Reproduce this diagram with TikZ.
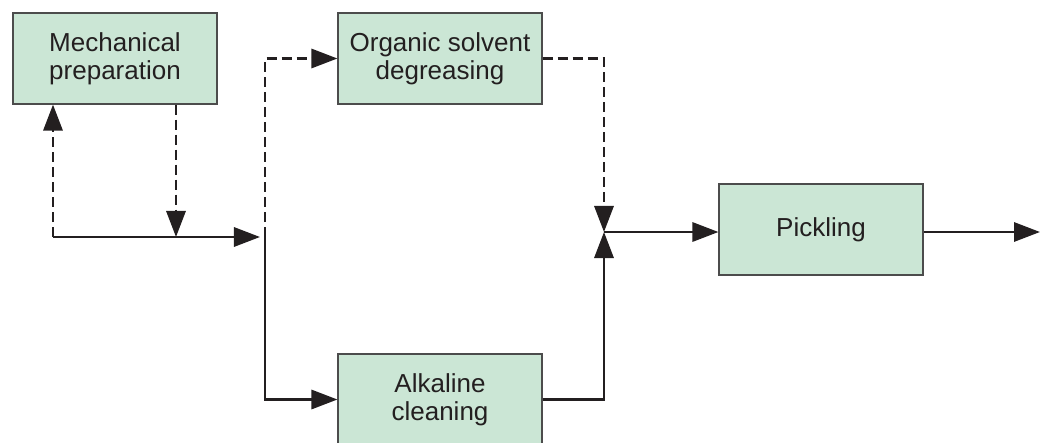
\documentclass[tikz,border=0pt]{standalone}
\usepackage{fontspec}
\setmainfont{Liberation Sans}
\usetikzlibrary{arrows.meta}
\definecolor{boxgreen}{RGB}{203,230,213}
\definecolor{inkgray}{RGB}{35,31,32}
\tikzset{
	stage/.style={draw=black!70, line width=0.8pt, fill=boxgreen, minimum width=5.1cm, minimum height=2.275cm, align=center, text=inkgray, font=\fontsize{18.5}{20}\selectfont},
	flow/.style={draw=inkgray, line width=1.8pt, -{Triangle[length=0.65cm, width=0.48cm]}},
	dashflow/.style={flow, dash pattern=on 0.25cm off 0.125cm},
}

\begin{document}
\begin{tikzpicture}[x=0.025cm, y=-0.025cm]
			%%%%% START %%%%%
			
			\useasboundingbox (0, 0) rectangle (1047, 442);
			
			\node[stage] (mech) at (115, 58.5) {Mechanical\\preparation};
			\node[stage] (organic) at (440, 58.5) {Organic solvent\\degreasing};
			\node[stage] (alkaline) at (440, 399.5) {Alkaline\\cleaning};
			\node[stage] (pickling) at (821, 229.5) {Pickling};
			
			\coordinate (loop) at (53, 237);
			\coordinate (drop) at (176, 237);
			\coordinate (split) at (265, 237);
			\coordinate (join) at (604, 232);
			\coordinate (exit) at (1040, 232);
			
			\draw[dashflow] (loop) -- (loop |- mech.south);
			\draw[dashflow] (mech.south -| drop) -- (drop);
			\draw[flow, shorten >=0.125cm] (loop) -- (split);
			
			\draw[dashflow] (split) |- (organic.west);
			\draw[flow] (split) |- (alkaline.west);
			
			\draw[dashflow] (organic.east) -| (join);
			\draw[flow] (alkaline.east) -| (join);
			
			\draw[flow] (join) -- (join -| pickling.west);
			\draw[flow] (pickling.east |- join) -- (exit);
			
			%%%%% END %%%%%
\end{tikzpicture}
\end{document}
